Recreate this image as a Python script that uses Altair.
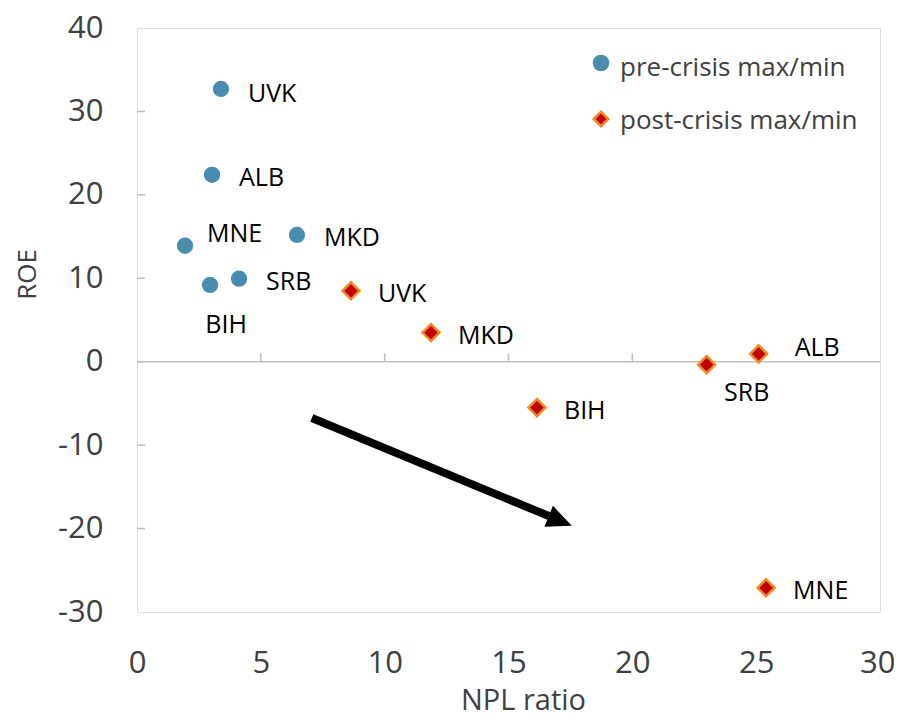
import altair as alt
import pandas as pd

# ---- data ----
series_names = ["pre-crisis max/min", "post-crisis max/min"]

countries_pre = ["UVK", "ALB", "MNE", "MKD", "SRB", "BIH"]
npl_pre = [3.39, 3.03, 1.94, 6.46, 4.12, 2.95]
roe_pre = [32.7, 22.4, 13.9, 15.2, 9.95, 9.2]

countries_post = ["UVK", "MKD", "BIH", "SRB", "ALB", "MNE"]
npl_post = [8.64, 11.87, 16.15, 23.0, 25.1, 25.4]
roe_post = [8.5, 3.5, -5.5, -0.35, 0.95, -27.1]

x_ticks = [0, 5, 10, 15, 20, 25, 30]
y_ticks = [-30, -20, -10, 0, 10, 20, 30, 40]

# annotation arrow (data units): shaft start/end, head centre
arrow_x = [7.06, 16.63]
arrow_y = [-6.75, -18.5]
head_x = [17.09]
head_y = [-19.09]

# ---- styling ----
FONT = "Open Sans"
BLUE = "#4A8CAE"
RED = "#C00000"
ORANGE = "#F08A24"
GRID = "#BFBFBF"
TXT = "#404040"

W, H = 743, 584

# label offsets (pixels) per point: (dx, dy, align)
default_off = (27, 3, "left")
label_off = {
    ("pre", "UVK"): (27, 5, "left"),
    ("pre", "MNE"): (22, -12, "left"),
    ("pre", "BIH"): (16, 40, "center"),
    ("post", "SRB"): (40, 28, "center"),
    ("post", "ALB"): (36, -6, "left"),
}

rows = []
for c, x, y in zip(countries_pre, npl_pre, roe_pre):
    rows.append({"country": c, "npl": x, "roe": y, "series": series_names[0], "key": "pre"})
for c, x, y in zip(countries_post, npl_post, roe_post):
    rows.append({"country": c, "npl": x, "roe": y, "series": series_names[1], "key": "post"})
df = pd.DataFrame(rows)

xscale = alt.Scale(domain=[0, 30], nice=False, zero=False)
yscale = alt.Scale(domain=[-30, 40], nice=False, zero=False)

xaxis = alt.Axis(values=x_ticks, title="NPL ratio", grid=False, ticks=False, tickSize=0,
                 domain=False, labelFont=FONT, labelFontSize=31, labelColor=TXT,
                 labelPadding=51, labelBaseline="middle", labelFlush=False,
                 labelExpr="'' + datum.value",
                 labelAlign=alt.ConditionalAxisLabelAlign(
                     condition={"test": "datum.value == 30", "value": "right"}, value="center"),
                 labelOffset=alt.ConditionalAxisNumber(
                     condition={"test": "datum.value == 30", "value": 15}, value=0),
                 titleFont=FONT, titleFontSize=29, titleFontWeight="normal",
                 titleColor=TXT, titleX=386, titleY=97, titleBaseline="alphabetic",
                 titleAlign="center", titleAnchor="start")
yaxis = alt.Axis(values=y_ticks, title="ROE", grid=False, ticks=False, tickSize=0,
                 domain=False, labelFont=FONT, labelFontSize=31, labelColor=TXT,
                 labelPadding=34, labelBaseline="middle", labelFlush=False,
                 labelExpr="'' + datum.value",
                 titleFont=FONT, titleFontSize=26, titleFontWeight="normal",
                 titleColor=TXT, titleX=-110, titleY=246, titleBaseline="middle",
                 titleAlign="center", titleAngle=270, titleAnchor="start")

shape_scale = alt.Scale(domain=series_names, range=["circle", "diamond"])
fill_scale = alt.Scale(domain=series_names, range=[BLUE, RED])
stroke_scale = alt.Scale(domain=series_names, range=[BLUE, ORANGE])

base = alt.Chart(df)

points = base.mark_point(filled=True, opacity=1, strokeWidth=2.5).encode(
    x=alt.X("npl:Q", scale=xscale, axis=xaxis),
    y=alt.Y("roe:Q", scale=yscale, axis=yaxis),
    fill=alt.Fill("series:N", scale=fill_scale, legend=None),
    stroke=alt.Stroke("series:N", scale=stroke_scale, legend=None),
    shape=alt.Shape("series:N", scale=shape_scale, legend=None),
    size=alt.Size("series:N", scale=alt.Scale(domain=series_names, range=[190, 290]),
                  legend=None),
)

label_layers = []
for r in rows:
    dx, dy, al = label_off.get((r["key"], r["country"]), default_off)
    label_layers.append(
        base.transform_filter(
            (alt.datum.country == r["country"]) & (alt.datum.key == r["key"])
        ).mark_text(font=FONT, fontSize=25, color="#000000", align=al,
                    baseline="middle", dx=dx, dy=dy).encode(
            x=alt.X("npl:Q", scale=xscale),
            y=alt.Y("roe:Q", scale=yscale),
            text="country:N",
        )
    )

# legend (drawn in the top-right corner of the plot area)
legend_layers = []
leg_sizes = [200, 210]
for i, name in enumerate(series_names):
    ldf = pd.DataFrame({"series": [name]})
    legend_layers.append(
        alt.Chart(ldf).mark_point(filled=True, opacity=1, strokeWidth=2.5,
                                  size=leg_sizes[i]).encode(
            x=alt.value(464), y=alt.value(35 + 56 * i),
            fill=alt.Fill("series:N", scale=fill_scale, legend=None),
            stroke=alt.Stroke("series:N", scale=stroke_scale, legend=None),
            shape=alt.Shape("series:N", scale=shape_scale, legend=None),
        )
    )
    legend_layers.append(
        alt.Chart(ldf).mark_text(font=FONT, fontSize=26, color=TXT, align="left",
                                 baseline="middle").encode(
            x=alt.value(483), y=alt.value(40 + 53 * i), text="series:N"
        )
    )

# zero line and tick marks
zero_line = alt.Chart(pd.DataFrame({"z": [0]})).mark_rule(color=GRID, strokeWidth=1.6).encode(
    y=alt.Y("z:Q", scale=yscale)
)
xt = alt.Chart(pd.DataFrame({"t": x_ticks[1:-1]})).transform_calculate(
    y0="0", y1="1.0"
).mark_rule(color=GRID, strokeWidth=1.6).encode(
    x=alt.X("t:Q", scale=xscale),
    y=alt.Y("y0:Q", scale=yscale),
    y2="y1:Q",
)
yt = alt.Chart(pd.DataFrame({"t": y_ticks[1:-1]})).mark_rule(color=GRID, strokeWidth=1.6).encode(
    y=alt.Y("t:Q", scale=yscale),
    x=alt.value(0),
    x2=alt.value(8),
)

# arrow
shaft = alt.Chart(pd.DataFrame({"x": arrow_x, "y": arrow_y, "o": [0, 1]})).mark_line(
    color="#000000", strokeWidth=8, strokeCap="butt"
).encode(x=alt.X("x:Q", scale=xscale), y=alt.Y("y:Q", scale=yscale), order="o:O")
head = alt.Chart(pd.DataFrame({"x": head_x, "y": head_y})).mark_point(
    shape="M0,-1L0.9,1L-0.9,1Z", filled=True, color="#000000", opacity=1,
    size=625, angle=112, strokeWidth=0
).encode(x=alt.X("x:Q", scale=xscale), y=alt.Y("y:Q", scale=yscale))

chart = alt.layer(
    zero_line, xt, yt, shaft, head, points, *label_layers, *legend_layers
).properties(
    width=W, height=H,
    autosize=alt.AutoSizeParams(type="none"),
    padding={"left": 129, "top": 20, "right": 14, "bottom": 100},
).configure_view(
    stroke=GRID, strokeWidth=1.6
).configure(background="white")

chart.save("out.html", embed_options={"renderer": "svg", "actions": False})
